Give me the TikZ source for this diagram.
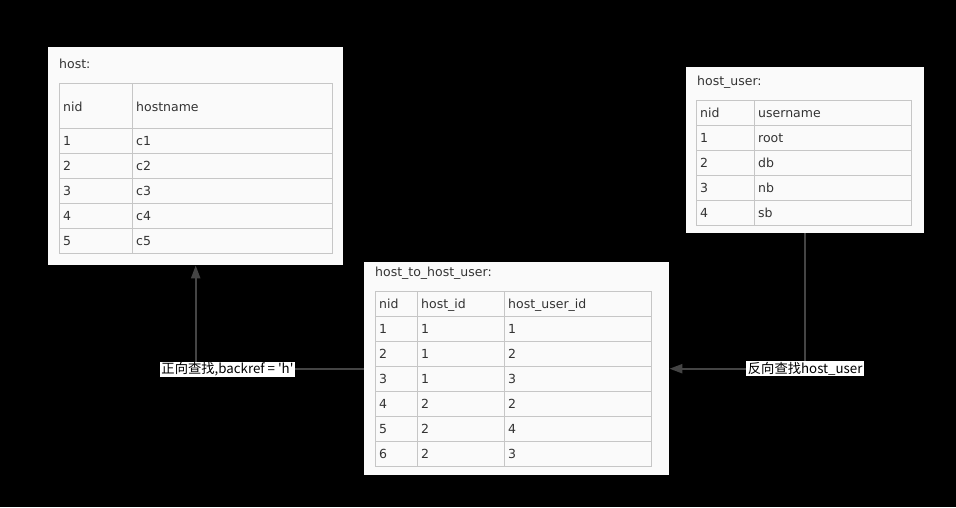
\documentclass[tikz,border=0pt]{standalone}
\usepackage{fontspec}
\setmainfont{DejaVu Sans}
\newfontfamily\cjk{Noto Sans CJK SC}
\usetikzlibrary{arrows.meta,positioning,calc}
\definecolor{ink}{HTML}{333333}
\definecolor{rule}{HTML}{C6C6C6}
\definecolor{paper}{HTML}{FAFAFA}
\definecolor{wire}{HTML}{444444}
\tikzset{%
  panel/.style={fill=paper,anchor=north west,inner sep=0pt},
  grid/.style={draw=rule,line width=0.8pt},
  cell/.style={anchor=base west,inner sep=0pt,text=ink,yshift=-5.2pt,
    font=\fontsize{12.5}{14}\selectfont},
  tag/.style={fill=white,text=black,inner xsep=1.5pt,inner ysep=1pt,
    font=\cjk\fontsize{13.3}{15}\selectfont},
  arrow/.style={-{Triangle[length=13pt,width=9pt]},line width=2.2pt,draw=wire}%
}

\begin{document}
\begin{tikzpicture}[x=1pt,y=-1pt]

% Canvas
\fill[black] (0,0) rectangle (956,507);
\useasboundingbox (0,0) rectangle (956,507);

% Panels
\node[panel,minimum width=295pt,minimum height=218pt] (host) at (48,47) {};
\node[panel,minimum width=238pt,minimum height=166pt] (user) at (686,67) {};
\node[panel,minimum width=305pt,minimum height=213pt] (link) at (364,262) {};

% host table
\node[cell] (hosttitle) at (59,63) {host:};
\draw[grid] (59,83) rectangle (332,253);
\foreach \y in {128,153,178,203,228} \draw[grid] (59,\y) -- (332,\y);
\draw[grid] (132,83) -- (132,253);
\node[cell] (hnid) at (63,106) {nid};
\node[cell] (hname) at (136,106) {hostname};
\foreach \i in {1,...,5} {
  \node[cell] (hid\i) at (63,115.5+25*\i) {\i};
  \node[cell] (hval\i) at (136,115.5+25*\i) {c\i};
}

% host_user table
\node[cell] (usertitle) at (697,80) {host\_user:};
\draw[grid] (696,100) rectangle (911,225);
\foreach \y in {125,150,175,200} \draw[grid] (696,\y) -- (911,\y);
\draw[grid] (754,100) -- (754,225);
\node[cell] (unid) at (700,112.5) {nid};
\node[cell] (uname) at (758,112.5) {username};
\foreach \i/\u in {1/root,2/db,3/nb,4/sb} {
  \node[cell] (uid\i) at (700,112.5+25*\i) {\i};
  \node[cell] (uval\i) at (758,112.5+25*\i) {\u};
}

% host_to_host_user table
\node[cell] (linktitle) at (375,271) {host\_to\_host\_user:};
\draw[grid] (375,291) rectangle (651,466);
\foreach \y in {316,341,366,391,416,441} \draw[grid] (375,\y) -- (651,\y);
\draw[grid] (417,291) -- (417,466);
\draw[grid] (504,291) -- (504,466);
\node[cell] (lnid) at (379,303.5) {nid};
\node[cell] (lhost) at (421,303.5) {host\_id};
\node[cell] (luser) at (508,303.5) {host\_user\_id};
\foreach \i/\h/\u in {1/1/1,2/1/2,3/1/3,4/2/2,5/2/4,6/2/3} {
  \node[cell] (lid\i) at (379,303.5+25*\i) {\i};
  \node[cell] (lh\i) at (421,303.5+25*\i) {\h};
  \node[cell] (lu\i) at (508,303.5+25*\i) {\u};
}

% Connections
\draw[arrow] (link.west) -| (host.south);
\draw[arrow] (user.south) |- (link.east);
\node[tag] (fwd) at (227.5,369.5) {正向查找,backref = 'h'};
\node[tag] (bwd) at (user.south |- link.east) {反向查找host\_user};

\end{tikzpicture}
\end{document}
